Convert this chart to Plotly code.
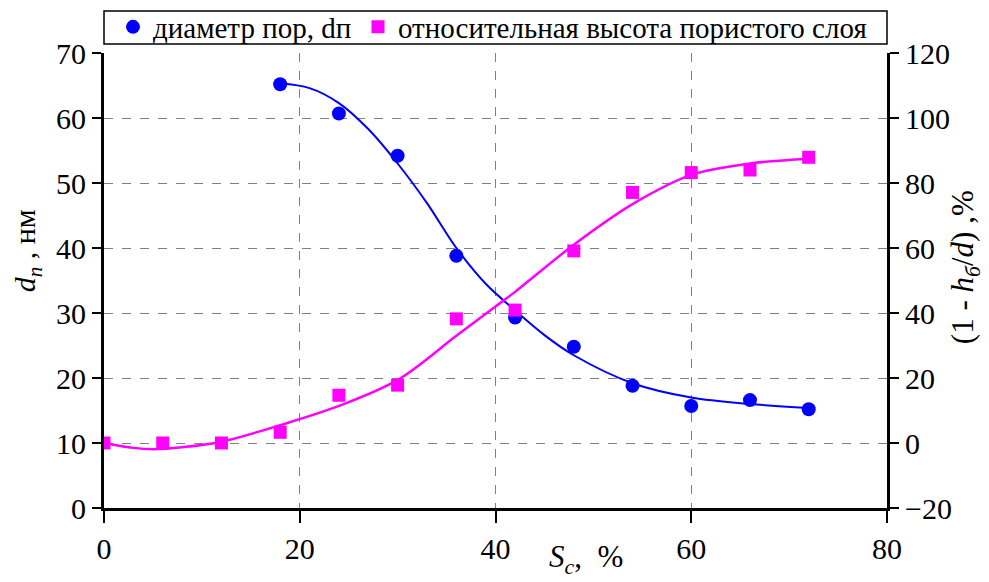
import plotly.graph_objects as go

# Pore diameter d_n (nm) vs S_c (%), left axis
sc_pore = [18, 24, 30, 36, 42, 48, 54, 60, 66, 72]
pore_diam = [65.2, 60.7, 54.2, 38.8, 29.3, 24.8, 18.8, 15.7, 16.6, 15.2]

# Relative height of porous layer (1 - h/d), %, right axis
sc_layer = [0, 6, 12, 18, 24, 30, 36, 42, 48, 54, 60, 66, 72]
layer_height = [0, 0, 0, 3.3, 14.7, 17.8, 38.2, 40.9, 59.1, 77.1, 83.2, 84.0, 87.9]

# Smoothed trend lines through both series
trend_pore_x = [18, 21, 24, 27, 30, 33, 36, 39, 42, 45, 48, 54, 60, 66, 72]
trend_pore_y = [65.3, 64.6, 62.3, 58.3, 53.0, 46.9, 40.0, 34.5, 30.4, 26.6, 23.5, 19.2, 17.0, 16.0, 15.4]
trend_layer_x = [0, 3, 5, 8, 12, 18, 24, 30, 36, 40, 42, 48, 54, 60, 66, 72]
trend_layer_y = [0, -1.5, -1.9, -1.3, 0.4, 5.5, 11.4, 19.4, 33.0, 42.0, 46.5, 61.0, 73.5, 82.5, 86.0, 87.5]

x_ticks = [0, 20, 40, 60, 80]
left_ticks = [0, 10, 20, 30, 40, 50, 60, 70]
right_ticks = [-20, 0, 20, 40, 60, 80, 100, 120]

BLUE = "#0000FF"
MAGENTA = "#FF00FF"
FONT = "Liberation Serif"
NBSP = "\u00a0"

fig = go.Figure()

fig.add_trace(go.Scatter(x=trend_pore_x, y=trend_pore_y, mode="lines",
                         line=dict(color=BLUE, width=2, shape="spline"),
                         showlegend=False, hoverinfo="skip"))
fig.add_trace(go.Scatter(x=trend_layer_x, y=trend_layer_y, mode="lines",
                         line=dict(color=MAGENTA, width=2.5, shape="spline"),
                         yaxis="y2", showlegend=False, hoverinfo="skip"))
fig.add_trace(go.Scatter(x=sc_pore, y=pore_diam, mode="markers",
                         marker=dict(symbol="circle", size=14, color=BLUE),
                         name="диаметр пор, dп", legend="legend"))
fig.add_trace(go.Scatter(x=sc_layer, y=layer_height, mode="markers",
                         marker=dict(symbol="square", size=13, color=MAGENTA),
                         yaxis="y2", name="относительная высота пористого слоя",
                         legend="legend2"))

grid = dict(showgrid=True, gridcolor="#808080", gridwidth=1, griddash="dash")
axis_common = dict(showline=True, linecolor="black", linewidth=3,
                   ticks="outside", tickwidth=2, tickcolor="black",
                   tickfont=dict(family=FONT, size=30, color="black"),
                   zeroline=False, automargin=False)

legend_common = dict(orientation="h", xref="container", yref="container",
                     xanchor="left", y=0.9536, yanchor="middle",
                     font=dict(family=FONT, size=29, color="black"),
                     bgcolor="rgba(0,0,0,0)", borderwidth=0, itemwidth=30)

fig.update_layout(
    width=989, height=582,
    margin=dict(l=104, r=102, t=53, b=74, autoexpand=False),
    paper_bgcolor="white", plot_bgcolor="white",
    xaxis=dict(range=[0, 80], tickvals=x_ticks, ticklen=12,
               **grid, **axis_common),
    yaxis=dict(range=[0, 70], tickvals=left_ticks, ticklen=9, ticksuffix=NBSP * 3,
               **grid, **axis_common),
    yaxis2=dict(range=[-20, 120], tickvals=right_ticks, overlaying="y",
                side="right", showgrid=False, ticklen=9, tickprefix=NBSP * 3,
                **axis_common),
    showlegend=True,
    legend=dict(x=113 / 989, **legend_common),
    legend2=dict(x=358 / 989, **legend_common),
    shapes=[dict(type="rect", xref="paper", yref="paper",
                 x0=0, x1=1, y0=1.0198, y1=1.0923,
                 line=dict(color="black", width=1.5), fillcolor="rgba(0,0,0,0)")],
    annotations=[
        dict(text="<i>S</i><sub><i>c</i></sub>,  %", xref="paper", yref="paper",
             x=0.615, y=-0.1604, xanchor="center", yanchor="bottom", showarrow=False,
             font=dict(family=FONT, size=31, color="black")),
        dict(text="<i>d</i><sub><i>n</i></sub> , нм", xref="paper", yref="paper",
             x=-0.098, y=0.565, xanchor="center", yanchor="middle", showarrow=False,
             textangle=-90, font=dict(family=FONT, size=30, color="black")),
        dict(text="(1 - <i>h</i><sub><i>б</i></sub>/<i>d</i>) ,%", xref="paper", yref="paper",
             x=1.1, y=0.53, xanchor="center", yanchor="middle", showarrow=False,
             textangle=-90, font=dict(family=FONT, size=31, color="black")),
    ],
)

fig.write_html("out.html")
